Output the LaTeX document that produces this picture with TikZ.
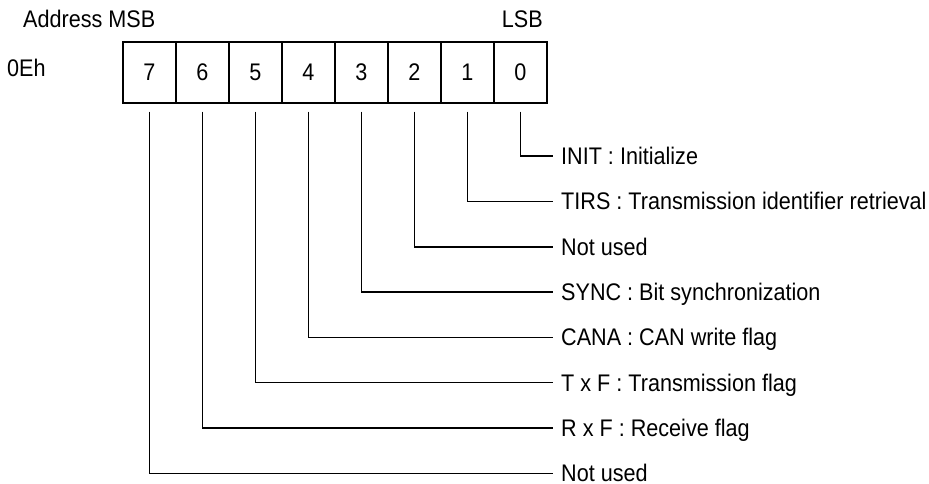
\documentclass[tikz,border=0pt]{standalone}
\usepackage{fontspec}
\setmainfont{Liberation Sans}[FakeStretch=0.9]
\begin{document}
\begin{tikzpicture}[x=1pt,y=-1pt,
  txt/.style={font=\fontsize{24}{28}\selectfont, inner sep=0pt},
  cell/.style={txt, draw, line width=1.4pt, minimum width=53pt, minimum height=61pt},
  lab/.style={txt, anchor=base west, text depth=0pt},
  conn/.style={line width=1.4pt}]
\useasboundingbox (0,0) rectangle (929,484);
\fill[white] (0,0) rectangle (929,484);
% header
\node[txt, anchor=base west] (addr) at (23,27.7) {Address MSB};
\node[txt, anchor=base east] (lsb) at (543,27.7) {LSB};
\node[txt, anchor=base west] (reg) at (7,76.7) {0Eh};
% cells
\foreach \b [count=\i from 0] in {7,6,5,4,3,2,1,0} {
  \node[cell] (c\b) at (149.5+53*\i,72.5) {\b};
}
% labels
\foreach \b/\t [count=\k from 0] in {0/{INIT : Initialize},
  1/{TIRS : Transmission identifier retrieval},
  2/{Not used},
  3/{SYNC : Bit synchronization},
  4/{CANA : CAN write flag},
  5/{T x F : Transmission flag},
  6/{R x F : Receive flag},
  7/{Not used}} {
  \coordinate (e\b) at (553,156.2+45.3*\k);
  \node[lab] (l\b) at (561,164.5+45.3*\k) {\t};
  \draw[conn] ([yshift=-8pt]c\b.south) |- (e\b);
}
\end{tikzpicture}
\end{document}
